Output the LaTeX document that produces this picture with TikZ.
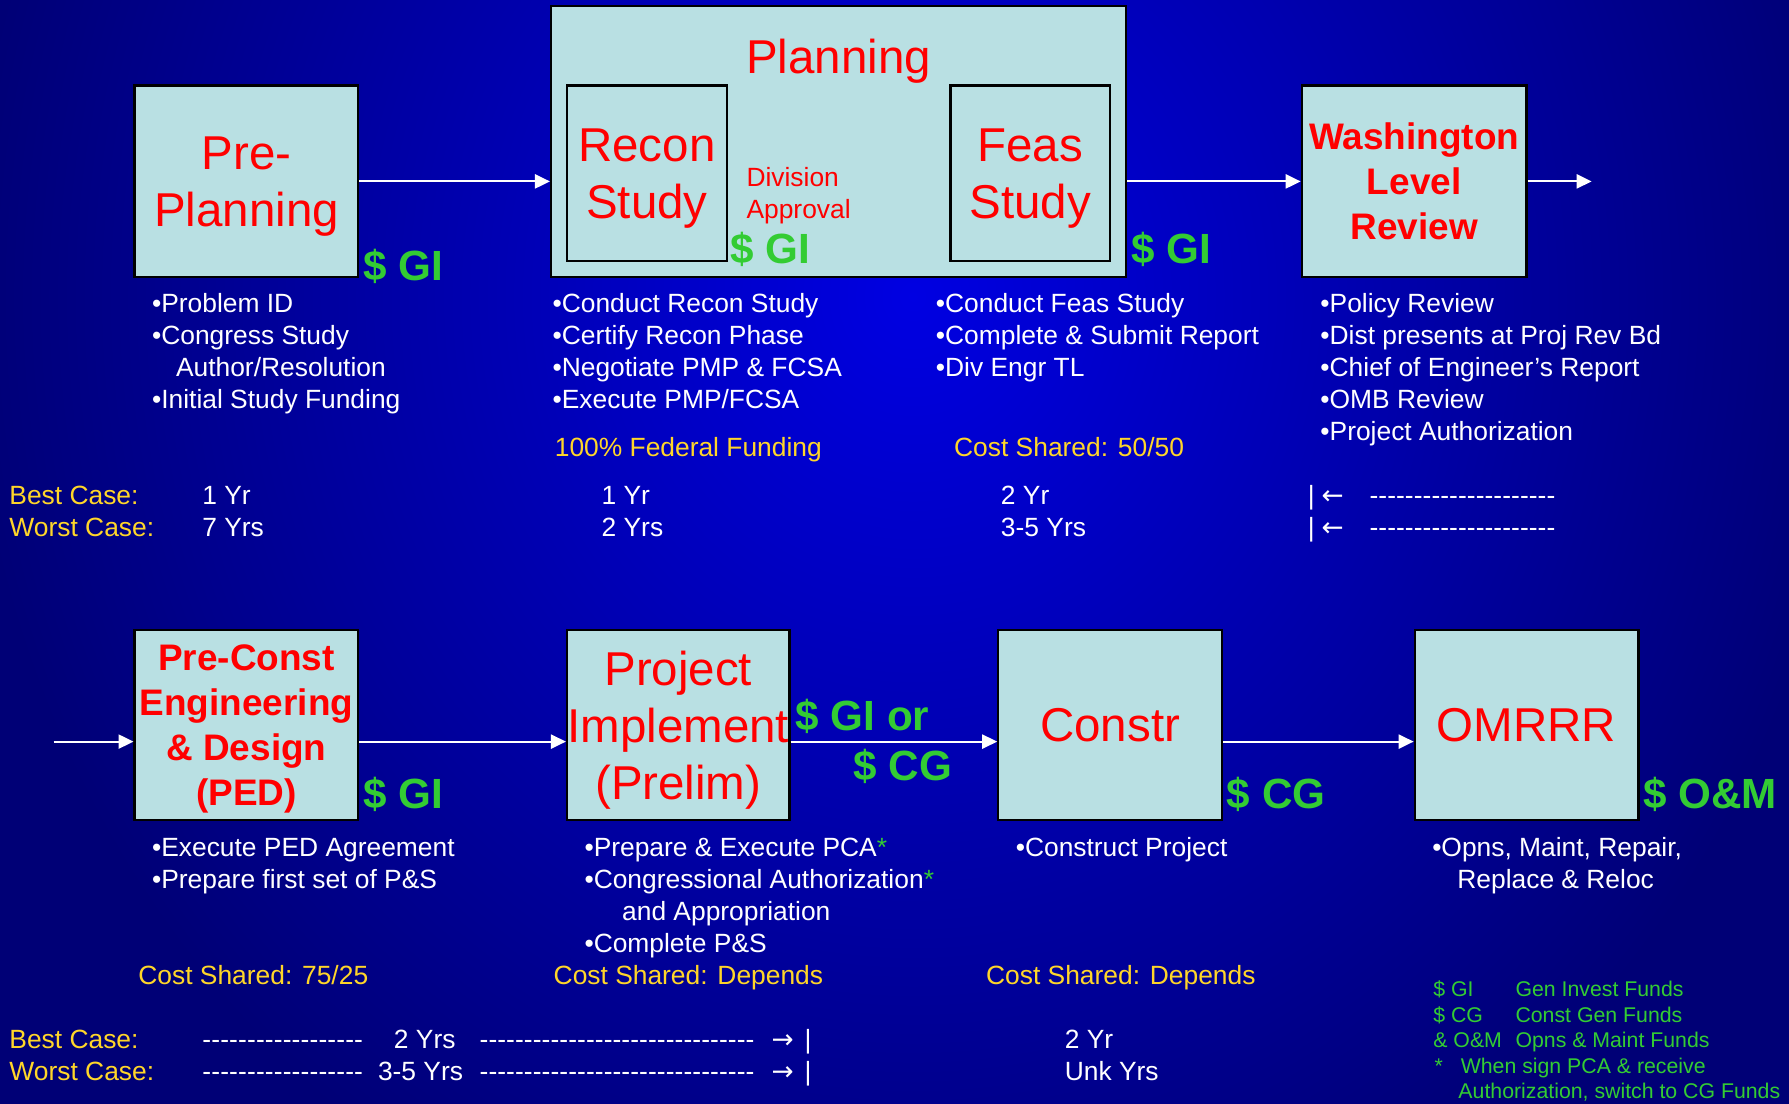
\documentclass[tikz,border=0pt]{standalone}
\usepackage{fontspec}
\setmainfont{Liberation Sans}[Ligatures=TeXOff]
\newfontfamily\arrowfont{DejaVu Sans}
\usetikzlibrary{arrows.meta, positioning, calc}

\definecolor{bgcore}{RGB}{0,0,226}
\definecolor{bgedge}{RGB}{0,0,118}
\definecolor{boxfill}{RGB}{185,224,227}
\definecolor{stagered}{RGB}{255,0,0}
\definecolor{fundgreen}{RGB}{51,204,51}
\definecolor{costyellow}{RGB}{255,214,41}

\newlength\pxu
\setlength\pxu{0.0228cm}
\newcommand{\dashrun}[1]{\makebox[#1]{\xleaders\hbox{-}\hfill}}
\newcommand{\bodyfont}{\fontsize{15}{18.2}\selectfont}
\newcommand{\bigfont}{\fontsize{27}{32.4}\selectfont}
\newcommand{\gstar}{\textcolor{fundgreen}{*}}

\begin{document}
\begin{tikzpicture}[
  x=0.0228cm, y=-0.0228cm,
  stage/.style={draw=black, line width=1.3pt, fill=boxfill, text=stagered, align=center,
    inner sep=0pt, text depth=0pt, font=\bigfont},
  stagebold/.style={stage, font=\fontsize{21}{25.6}\selectfont\bfseries},
  flow/.style={draw=white, line width=1.2pt, -{Triangle[length=8.5pt, width=8pt]}},
  fund/.style={text=fundgreen, font=\fontsize{24}{28}\selectfont\bfseries, anchor=base west, inner sep=0pt},
  txt/.style={text=white, font=\bodyfont, anchor=base west, inner sep=0pt},
  cost/.style={txt, text=costyellow},
  legend/.style={text=fundgreen, font=\fontsize{12.1}{14.6}\selectfont, anchor=base west, inner sep=0pt}
]
\useasboundingbox (0,0) rectangle (1568,967);

%--------------------------------------------------------------
% Background
%--------------------------------------------------------------
\begin{scope}
  \clip (-10,-10) rectangle (1578,977);
  \fill[bgedge] (-10,-10) rectangle (1578,977);
  \shade[inner color=bgcore, outer color=bgedge] (800,260) ellipse [x radius=830, y radius=900];
\end{scope}

%--------------------------------------------------------------
% Upper row: study phases
%--------------------------------------------------------------
\node[stage, minimum width=196\pxu, minimum height=168\pxu] (pre) at (216,159) {Pre-\\Planning};
\node[stage, minimum width=504\pxu, minimum height=238\pxu] (plan) at (735,124) {};
\node[text=stagered, font=\bigfont, inner sep=0pt] (plantitle) at (735,54) {Planning};
\node[stage, minimum width=140\pxu, minimum height=154\pxu] (recon) at (567,152) {Recon\\Study};
\node[stage, minimum width=140\pxu, minimum height=154\pxu] (feas) at (903,152) {Feas\\Study};
\node[text=stagered, font=\fontsize{15}{18.2}\selectfont, align=left, anchor=west, inner sep=0pt]
  (divappr) at (654,171.5) {Division\\Approval};
\node[stagebold, minimum width=197\pxu, minimum height=168\pxu] (wash) at (1239.5,159) {Washington\\Level\\Review};
\coordinate (washout) at (1395,159);

\draw[flow] (pre.east) -- (pre.east -| plan.west);
\draw[flow] (plan.east |- pre.east) -- (wash.west);
\draw[flow] (wash.east) -- (washout);

\node[fund] (gi1) at (318,246) {\$ GI};
\node[fund] (gi2) at (640,231) {\$ GI};
\node[fund] (gi3) at (991,231) {\$ GI};

% bullet lists
\foreach \t [count=\i] in {{•Problem ID},{•Congress Study},{\hspace*{13.6pt}Author/Resolution},{•Initial Study Funding}}
  \node[txt] (ppnote\i) at (133,{274+28*(\i-1)}) {\t};
\foreach \t [count=\i] in {{•Conduct Recon Study},{•Certify Recon Phase},{•Negotiate PMP \& FCSA},{•Execute PMP/FCSA}}
  \node[txt] (rcnote\i) at (484,{274+28*(\i-1)}) {\t};
\foreach \t [count=\i] in {{•Conduct Feas Study},{•Complete \& Submit Report},{•Div Engr TL}}
  \node[txt] (fsnote\i) at (820,{274+28*(\i-1)}) {\t};
\foreach \t [count=\i] in {{•Policy Review},{•Dist presents at Proj Rev Bd},{•Chief of Engineer’s Report},{•OMB Review},{•Project Authorization}}
  \node[txt] (wlnote\i) at (1157,{274+28*(\i-1)}) {\t};

\node[cost] (fed) at (486,400) {100\% Federal Funding};
\node[cost] (share1) at (836,400) {Cost Shared: 50/50};

% durations
\node[cost] (best1) at (8,442) {Best Case:};
\node[cost] (worst1) at (8,470) {Worst Case:};
\foreach \x/\b/\w [count=\i] in {177/1 Yr/7 Yrs, 527/1 Yr/2 Yrs, 877/2 Yr/3-5 Yrs}{
  \node[txt] (bestyr\i) at (\x,442) {\b};
  \node[txt] (worstyr\i) at (\x,470) {\w};
}
\foreach \y/\n in {442/a, 470/b}{
  \node[txt] (wbar\n) at (1146,\y) {|};
  \node[txt] (warr\n) at (1158,\y) {\arrowfont ←};
  \node[txt] (wdash\n) at (1200,\y) {\dashrun{163\pxu}};
}

%--------------------------------------------------------------
% Lower row: project phases
%--------------------------------------------------------------
\coordinate (lane) at (0,650);
\coordinate (pedin) at (47,650);
\node[stagebold, minimum width=196\pxu, minimum height=167\pxu] (ped) at (216,635.5) {Pre-Const\\Engineering\\\& Design\\(PED)};
\node[stage, minimum width=195\pxu, minimum height=167\pxu] (proj) at (594.5,635.5) {Project\\Implement\\(Prelim)};
\node[stage, minimum width=196\pxu, minimum height=167\pxu] (constr) at (973,635.5) {Constr};
\node[stage, minimum width=196\pxu, minimum height=167\pxu] (omrrr) at (1338,635.5) {OMRRR};

\draw[flow] (pedin) -- (ped.west |- lane);
\draw[flow] (ped.east |- lane) -- (proj.west |- lane);
\draw[flow] (proj.east |- lane) -- (constr.west |- lane);
\draw[flow] (constr.east |- lane) -- (omrrr.west |- lane);

\node[fund] (gi4) at (318,709) {\$ GI};
\node[fund] (gior) at (697,640) {\$ GI or};
\node[fund] (cg1) at (748,684) {\$ CG};
\node[fund] (cg2) at (1075,709) {\$ CG};
\node[fund] (om) at (1440,709) {\$ O\&M};

% bullet lists
\foreach \t [count=\i] in {{•Execute PED Agreement},{•Prepare first set of P\&S}}
  \node[txt] (pednote\i) at (133,{751+28*(\i-1)}) {\t};
\foreach \t [count=\i] in {{•Prepare \& Execute PCA\gstar},{•Congressional Authorization\gstar},
    {\hspace*{21.4pt}and Appropriation},{•Complete P\&S}}
  \node[txt] (pinote\i) at (512,{751+28*(\i-1)}) {\t};
\node[txt] (cnnote1) at (890,751) {•Construct Project};
\node[txt] (omnote1) at (1255,751) {•Opns, Maint, Repair,};
\node[txt] (omnote2) at (1255,779) {\hspace*{14.3pt}Replace \& Reloc};

\node[cost] (share2) at (121,863) {Cost Shared: 75/25};
\node[cost] (share3) at (485,863) {Cost Shared: Depends};
\node[cost] (share4) at (864,863) {Cost Shared: Depends};

% durations
\node[cost] (best2) at (8,919) {Best Case:};
\node[cost] (worst2) at (8,947) {Worst Case:};
\foreach \y/\v/\vx/\n in {919/2 Yrs/345/a, 947/3-5 Yrs/331/b}{
  \node[txt] (pdashl\n) at (177,\y) {\dashrun{141\pxu}};
  \node[txt] (pyr\n) at (\vx,\y) {\v};
  \node[txt] (pdashr\n) at (420,\y) {\dashrun{241\pxu}};
  \node[txt] (parr\n) at (676,\y) {\arrowfont →};
  \node[txt] (pbar\n) at (705,\y) {|};
}
\node[txt] (cbest) at (933,919) {2 Yr};
\node[txt] (cworst) at (933,947) {Unk Yrs};

%--------------------------------------------------------------
% Legend
%--------------------------------------------------------------
\foreach \k/\d/\y [count=\i] in {\$ GI/Gen Invest Funds/873, \$ CG/Const Gen Funds/896, \& O\&M/Opns \& Maint Funds/918}{
  \node[legend] (legkey\i) at (1256,\y) {\k};
  \node[legend] (legdesc\i) at (1328,\y) {\d};
}
\node[legend] (legstar) at (1257,941) {*};
\node[legend] (legnote1) at (1280,941) {When sign PCA \& receive};
\node[legend] (legnote2) at (1278,963) {Authorization, switch to CG Funds};

\end{tikzpicture}
\end{document}
